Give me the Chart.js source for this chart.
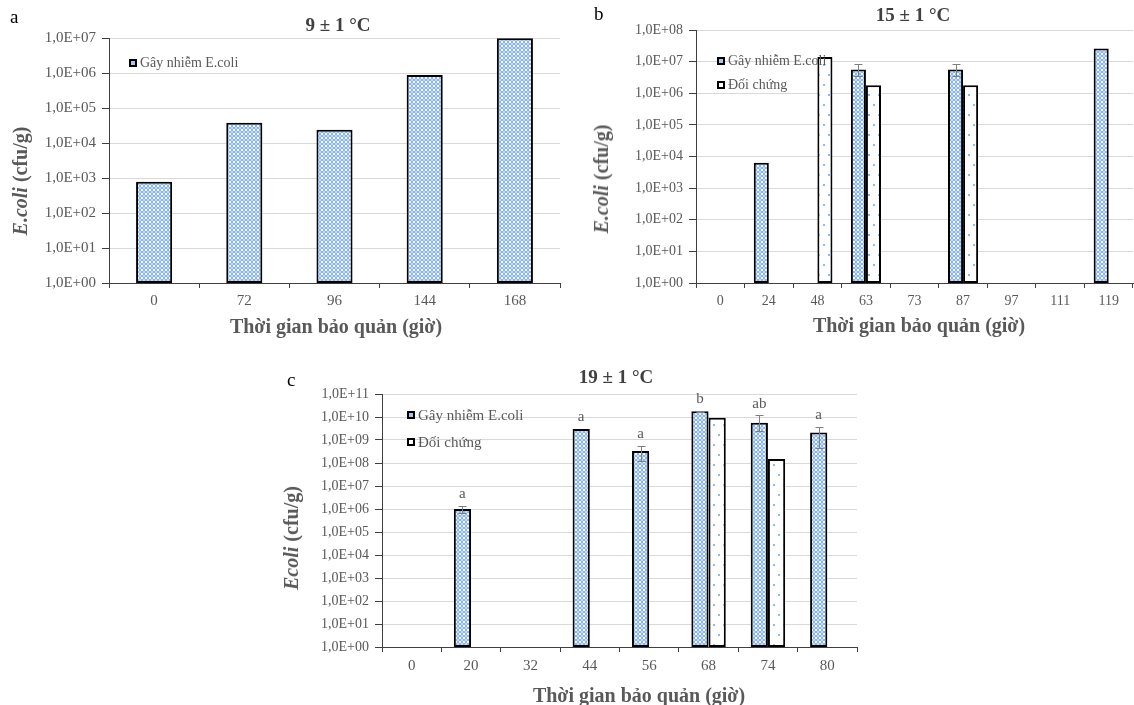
<!DOCTYPE html>
<html><head><meta charset="utf-8">
<script src="https://cdn.jsdelivr.net/npm/chart.js@4.4.1/dist/chart.umd.min.js"></script>
<style>
body{margin:0;width:1134px;height:705px;background:#fff;position:relative;overflow:hidden;font-family:"Liberation Serif","Times New Roman",serif;}
canvas{position:absolute;}
.t{position:absolute;white-space:nowrap;transform:translate(-50%,-50%);line-height:1;}
.ttl{font-weight:bold;font-size:19px;color:#404040;}
.xt{font-weight:bold;font-size:20px;color:#595959;}
.yt{position:absolute;white-space:nowrap;transform:translate(-50%,-50%) rotate(-90deg);font-weight:bold;font-size:20px;color:#595959;line-height:1;}
.let{position:absolute;font-size:19px;color:#000;line-height:1;}
.lg{position:absolute;white-space:nowrap;color:#595959;line-height:1;transform:translateY(-50%);}
.sw{position:absolute;width:4px;height:4px;border:2px solid #000;transform:translateY(-50%);}
.sw.blue{background:#a7c7ef;}
.sw.dot{background:#fff;}
</style></head>
<body>
<canvas id="ca" width="565" height="340" style="left:0;top:0"></canvas>
<canvas id="cb" width="574" height="340" style="left:560px;top:0"></canvas>
<canvas id="cc" width="600" height="365" style="left:270px;top:340px"></canvas>

<div class="let" style="left:10px;top:7px">a</div>
<div class="let" style="left:594px;top:4px">b</div>
<div class="let" style="left:287px;top:370px">c</div>

<div class="t ttl" style="left:338px;top:24px">9 ± 1 °C</div>
<div class="t ttl" style="left:913px;top:14px">15 ± 1 °C</div>
<div class="t ttl" style="left:616px;top:376px">19 ± 1 °C</div>

<div class="t xt" style="left:336px;top:326px">Thời gian bảo quản (giờ)</div>
<div class="t xt" style="left:919px;top:325px">Thời gian bảo quản (giờ)</div>
<div class="t xt" style="left:639px;top:695px">Thời gian bảo quản (giờ)</div>

<div class="yt" style="left:20px;top:181px"><i>E.coli</i> (cfu/g)</div>
<div class="yt" style="left:601px;top:179px"><i>E.coli</i> (cfu/g)</div>
<div class="yt" style="left:291px;top:538px"><i>Ecoli</i> (cfu/g)</div>

<div class="sw blue" style="left:129px;top:63px"></div>
<div class="lg" style="left:140px;top:63px;font-size:14px">Gây nhiễm E.coli</div>

<div class="sw blue" style="left:717px;top:61px"></div>
<div class="lg" style="left:728px;top:61px;font-size:14px">Gây nhiễm E.coli</div>
<div class="sw dot" style="left:717px;top:85px"></div>
<div class="lg" style="left:728px;top:85px;font-size:14px">Đối chứng</div>

<div class="sw blue" style="left:407px;top:415px"></div>
<div class="lg" style="left:418px;top:415px;font-size:15px">Gây nhiễm E.coli</div>
<div class="sw dot" style="left:407px;top:442px"></div>
<div class="lg" style="left:418px;top:442px;font-size:15px">Đối chứng</div>

<script>
// ---------- DATA ----------
const catsA = ['0','72','96','144','168'];
const infectedA = [780, 38000, 24000, 880000, 9800000];
const yTickValuesA = [1, 10, 100, 1000, 10000, 100000, 1000000, 10000000];
const yTickLabelsA = ['1,0E+00','1,0E+01','1,0E+02','1,0E+03','1,0E+04','1,0E+05','1,0E+06','1,0E+07'];

const catsB = ['0','24','48','63','73','87','97','111','119'];
const infectedB = [null, 6400, null, 5600000, null, 5600000, null, null, 26000000];
const infectedBErrHi = [null, null, null, 8300000, null, 8300000, null, null, null];
const infectedBErrLo = [null, null, null, 3500000, null, 3500000, null, null, null];
const controlB = [null, null, 14000000, 1800000, null, 1800000, null, null, null];
const yTickValuesB = [1, 10, 100, 1000, 10000, 100000, 1000000, 10000000, 100000000];
const yTickLabelsB = ['1,0E+00','1,0E+01','1,0E+02','1,0E+03','1,0E+04','1,0E+05','1,0E+06','1,0E+07','1,0E+08'];

const catsC = ['0','20','32','44','56','68','74','80'];
const infectedC = [null, 1000000, null, 3000000000, 330000000, 18000000000, 5600000000, 2100000000];
const infectedCErrHi = [null, 1400000, null, null, 560000000, 19000000000, 12000000000, 3800000000];
const infectedCErrLo = [null, 700000, null, null, 120000000, 17000000000, 2500000000, 440000000];
const controlC = [null, null, null, null, null, 9300000000, 150000000, null];
const lettersC = ['', 'a', '', 'a', 'a', 'b', 'ab', 'a'];
const yTickValuesC = [1, 10, 100, 1000, 10000, 100000, 1000000, 10000000, 100000000, 1000000000, 10000000000, 100000000000];
const yTickLabelsC = ['1,0E+00','1,0E+01','1,0E+02','1,0E+03','1,0E+04','1,0E+05','1,0E+06','1,0E+07','1,0E+08','1,0E+09','1,0E+10','1,0E+11'];

const seriesNames = ['Gây nhiễm E.coli', 'Đối chứng'];

// ---------- STYLE ----------
const FONT = '"Liberation Serif","Times New Roman",serif';
const AXIS = '#3f3f3f', GRID = '#d9d9d9', TXT = '#595959';

function makeBluePattern(){
  const c = document.createElement('canvas'); c.width = 4; c.height = 4;
  const g = c.getContext('2d');
  const B = '#8ab6ec', W = '#f4f8fe', L = '#c3daf5';
  const map = [[L,B,B,L],[B,W,W,B],[B,W,W,B],[L,B,B,L]];
  for (let y=0;y<4;y++) for (let x=0;x<4;x++){ g.fillStyle = map[y][x]; g.fillRect(x,y,1,1); }
  return g.createPattern(c,'repeat');
}
function makeDotPattern(){
  const c = document.createElement('canvas'); c.width = 10; c.height = 20;
  const g = c.getContext('2d');
  g.fillStyle = '#ffffff'; g.fillRect(0,0,10,20);
  g.fillStyle = '#8dbbee';
  g.fillRect(3,4,2,2); g.fillRect(8,14,2,2);
  return g.createPattern(c,'repeat');
}
const bluePat = makeBluePattern();
const dotPat = makeDotPattern();

const errorBarPlugin = {
  id: 'errbars',
  afterDatasetsDraw(chart){
    const ctx = chart.ctx, ys = chart.scales.y;
    chart.data.datasets.forEach((ds, di) => {
      const meta = chart.getDatasetMeta(di);
      ctx.save();
      if (ds.errHi){
        ctx.strokeStyle = '#7f7f7f'; ctx.lineWidth = 1;
        meta.data.forEach((bar, i) => {
          if (ds.errHi[i] == null) return;
          const x = Math.round(bar.x) + 0.5;
          const yh = Math.round(ys.getPixelForValue(ds.errHi[i])) + 0.5;
          const yl = Math.round(ys.getPixelForValue(ds.errLo[i])) + 0.5;
          ctx.beginPath();
          ctx.moveTo(x, yh); ctx.lineTo(x, yl);
          ctx.moveTo(x-4, yh); ctx.lineTo(x+4, yh);
          ctx.moveTo(x-4, yl); ctx.lineTo(x+4, yl);
          ctx.stroke();
        });
      }
      if (ds.letters){
        ctx.fillStyle = TXT; ctx.font = '15px ' + FONT;
        ctx.textAlign = 'center'; ctx.textBaseline = 'bottom';
        meta.data.forEach((bar, i) => {
          const l = ds.letters[i];
          if (!l || ds.data[i] == null) return;
          let top = ys.getPixelForValue(ds.data[i]);
          if (ds.errHi && ds.errHi[i] != null) top = Math.min(top, ys.getPixelForValue(ds.errHi[i]));
          ctx.fillText(l, bar.x, top - 4);
        });
      }
      ctx.restore();
    });
  }
};

function makeChart(id, cats, datasets, yVals, yLabels, geo){
  return new Chart(document.getElementById(id), {
    type: 'bar',
    data: { labels: cats, datasets },
    options: {
      responsive: false, animation: false, devicePixelRatio: 1,
      layout: { padding: { left: 0, top: geo.top, right: geo.right, bottom: 0 } },
      plugins: { legend: { display: false }, tooltip: { enabled: false } },
      datasets: { bar: { categoryPercentage: geo.cat, barPercentage: 1, borderWidth: 2, borderColor: '#000', borderSkipped: false } },
      scales: {
        x: {
          type: 'category',
          grid: { offset: true, drawOnChartArea: false, drawTicks: true, tickLength: 5, tickColor: AXIS },
          border: { color: AXIS, width: 1 },
          ticks: { color: TXT, font: { family: FONT, size: geo.xfs }, padding: geo.xpad, maxRotation: 0, autoSkip: false },
          afterFit(s){ s.height = geo.xh; }
        },
        y: {
          type: 'logarithmic', min: yVals[0], max: yVals[yVals.length-1],
          afterBuildTicks(s){ s.ticks = yVals.map(v => ({ value: v })); },
          grid: { color: GRID, tickColor: AXIS, tickLength: 7, drawTicks: true },
          border: { color: AXIS, width: 1 },
          ticks: { color: TXT, font: { family: FONT, size: geo.yfs }, padding: 6,
                   callback: (v, i) => yLabels[yVals.indexOf(v)] ?? '' },
          afterFit(s){ s.width = geo.yw; }
        }
      }
    },
    plugins: [errorBarPlugin]
  });
}

makeChart('ca', catsA, [
  { label: seriesNames[0], data: infectedA, backgroundColor: bluePat }
], yTickValuesA, yTickLabelsA, { top: 38, right: 5, xh: 57, yw: 109, cat: 0.4, xpad: 4, xfs: 15, yfs: 15 });

makeChart('cb', catsB, [
  { label: seriesNames[0], data: infectedB, backgroundColor: bluePat, errHi: infectedBErrHi, errLo: infectedBErrLo },
  { label: seriesNames[1], data: controlB, backgroundColor: dotPat }
], yTickValuesB, yTickLabelsB, { top: 30, right: 1, xh: 57, yw: 136, cat: 0.62, xpad: 5, xfs: 14, yfs: 14 });

makeChart('cc', catsC, [
  { label: seriesNames[0], data: infectedC, backgroundColor: bluePat, errHi: infectedCErrHi, errLo: infectedCErrLo, letters: lettersC },
  { label: seriesNames[1], data: controlC, backgroundColor: dotPat }
], yTickValuesC, yTickLabelsC, { top: 54, right: 13, xh: 58, yw: 112, cat: 0.58, xpad: 5, xfs: 15, yfs: 14 });
</script>
</body></html>
